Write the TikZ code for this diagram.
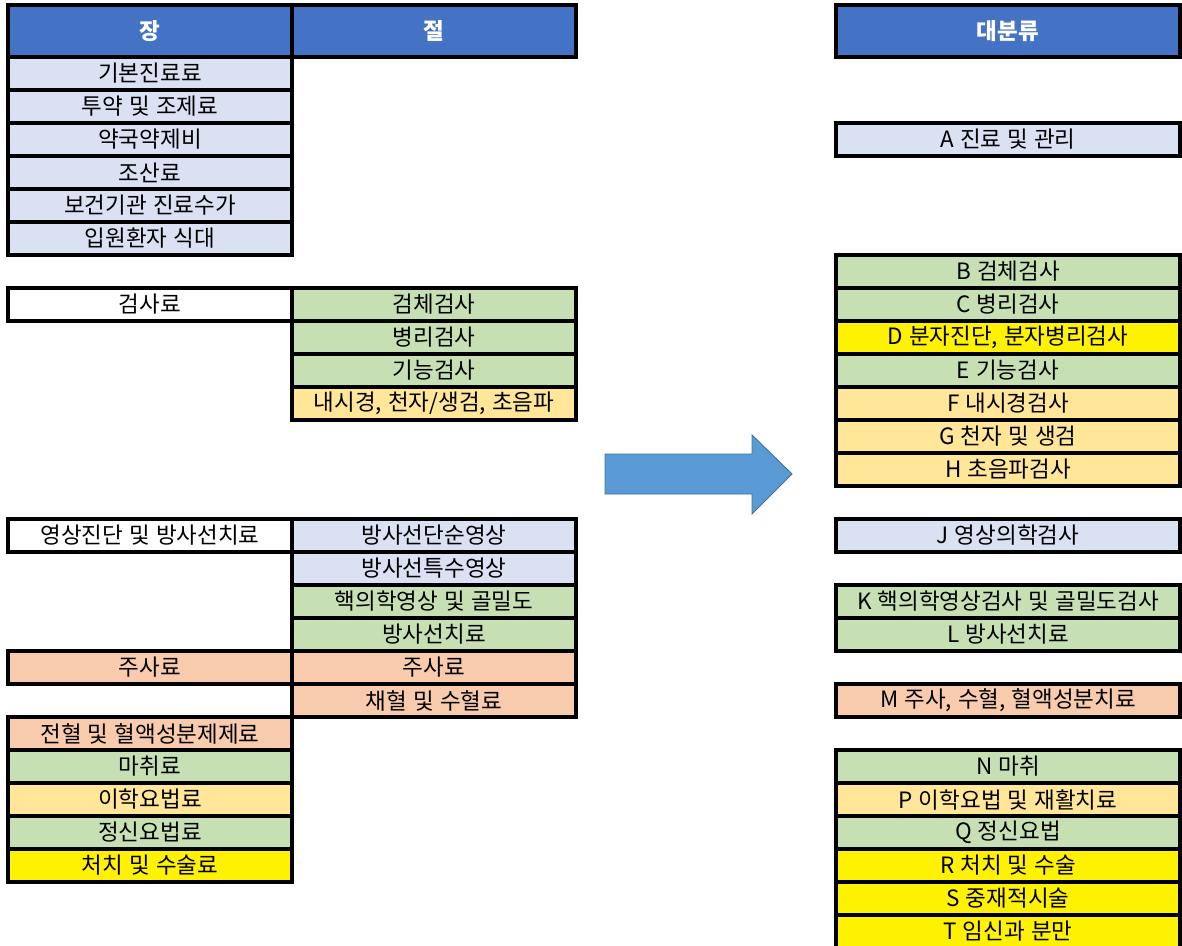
\documentclass[tikz,border=0pt]{standalone}
\usepackage{fontspec}
\setmainfont[WordSpace=1.2]{Noto Sans CJK KR}
\definecolor{hdrblue}{HTML}{4472C4}
\definecolor{paleblue}{HTML}{D9E1F2}
\definecolor{palegreen}{HTML}{C6E0B4}
\definecolor{paleorange}{HTML}{FFE699}
\definecolor{salmon}{HTML}{F8CBAD}
\definecolor{arrowblue}{HTML}{5B9BD5}
\definecolor{arrowedge}{HTML}{41719C}
\tikzset{
  cell/.style={draw=black, line width=3pt, minimum height=0.99cm, inner sep=0pt,
    font=\fontsize{19.2}{20}\selectfont},
  jang/.style={cell, minimum width=8.52cm},
  jeol/.style={cell, minimum width=8.52cm},
  major/.style={cell, minimum width=10.32cm},
  header/.style={fill=hdrblue, text=white, minimum height=1.56cm, font=\fontsize{19.2}{20}\selectfont\bfseries},
  blue/.style={fill=paleblue},
  green/.style={fill=palegreen},
  orange/.style={fill=paleorange},
  pink/.style={fill=salmon},
  yellow/.style={fill=yellow}
}
\begin{document}
\begin{tikzpicture}[x=0.03cm, y=-0.03cm]
  \useasboundingbox (0,0) rectangle (1182,945);
  % headers
  \node[jang, header] (h1) at (150,31) {장};
  \node[jeol, header] (h2) at (434,31) {절};
  \node[major, header] (h3) at (1008,31) {대분류};
  % chapters, first block
  \node[jang, blue] (j1) at (150,73.5) {기본진료료};
  \node[jang, blue] (j2) at (150,106.5) {투약 및 조제료};
  \node[jang, blue] (j3) at (150,139.5) {약국약제비};
  \node[jang, blue] (j4) at (150,172.5) {조산료};
  \node[jang, blue] (j5) at (150,205.5) {보건기관 진료수가};
  \node[jang, blue] (j6) at (150,238.5) {입원환자 식대};
  % tests
  \node[jang, fill=white] (j7) at (150,304.5) {검사료};
  \node[jeol, green] (s1) at (434,304.5) {검체검사};
  \node[jeol, green] (s2) at (434,337.5) {병리검사};
  \node[jeol, green] (s3) at (434,370.5) {기능검사};
  \node[jeol, orange] (s4) at (434,403.5) {내시경, 천자/생검, 초음파};
  % imaging
  \node[jang, fill=white] (j8) at (150,535.5) {영상진단 및 방사선치료};
  \node[jeol, blue] (s5) at (434,535.5) {방사선단순영상};
  \node[jeol, blue] (s6) at (434,568.5) {방사선특수영상};
  \node[jeol, green] (s7) at (434,601.5) {핵의학영상 및 골밀도};
  \node[jeol, green] (s8) at (434,634.5) {방사선치료};
  % injections and the rest
  \node[jang, pink] (j9) at (150,667.5) {주사료};
  \node[jeol, pink] (s9) at (434,667.5) {주사료};
  \node[jeol, pink] (s10) at (434,700.5) {채혈 및 수혈료};
  \node[jang, pink] (j10) at (150,733.5) {전혈 및 혈액성분제제료};
  \node[jang, green] (j11) at (150,766.5) {마취료};
  \node[jang, orange] (j12) at (150,799.5) {이학요법료};
  \node[jang, green] (j13) at (150,832.5) {정신요법료};
  \node[jang, yellow] (j14) at (150,865.5) {처치 및 수술료};
  % major classes
  \node[major, blue] (A) at (1008,139.5) {A 진료 및 관리};
  \node[major, green] (B) at (1008,271.5) {B 검체검사};
  \node[major, green] (C) at (1008,304.5) {C 병리검사};
  \node[major, yellow] (D) at (1008,337.5) {D 분자진단, 분자병리검사};
  \node[major, green] (E) at (1008,370.5) {E 기능검사};
  \node[major, orange] (F) at (1008,403.5) {F 내시경검사};
  \node[major, orange] (G) at (1008,436.5) {G 천자 및 생검};
  \node[major, orange] (H) at (1008,469.5) {H 초음파검사};
  \node[major, blue] (J) at (1008,535.5) {J 영상의학검사};
  \node[major, green] (K) at (1008,601.5) {K 핵의학영상검사 및 골밀도검사};
  \node[major, green] (L) at (1008,634.5) {L 방사선치료};
  \node[major, pink] (M) at (1008,700.5) {M 주사, 수혈, 혈액성분치료};
  \node[major, green] (N) at (1008,766.5) {N 마취};
  \node[major, orange] (P) at (1008,799.5) {P 이학요법 및 재활치료};
  \node[major, green] (Q) at (1008,832.5) {Q 정신요법};
  \node[major, yellow] (R) at (1008,865.5) {R 처치 및 수술};
  \node[major, yellow] (S) at (1008,898.5) {S 중재적시술};
  \node[major, yellow] (T) at (1008,931.5) {T 임신과 분만};
  % block arrow
  \draw[fill=arrowblue, draw=arrowedge, line width=0.8pt]
    (605,454) -- (752,454) -- (752,435) -- (792,474) -- (752,514)
    -- (752,494) -- (605,494) -- cycle;
\end{tikzpicture}
\end{document}
